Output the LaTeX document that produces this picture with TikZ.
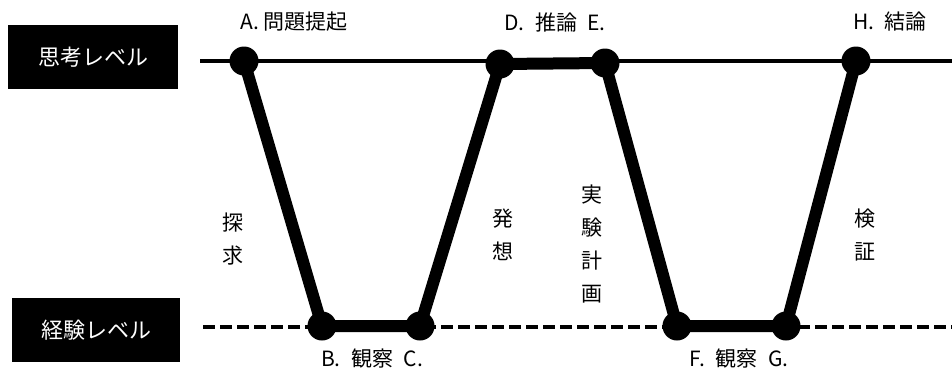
\documentclass[tikz,border=0pt]{standalone}
\usepackage{fontspec}
\setmainfont{Noto Sans CJK JP}
\usepackage{tikz}
\usetikzlibrary{positioning}

\begin{document}
\begin{tikzpicture}[x=1pt, y=-1pt,
  font=\fontsize{21}{24}\selectfont,
  lvl/.style={rectangle, fill=black, text=white, minimum width=170,
             minimum height=64, inner sep=0pt,
             font=\fontsize{22}{24}\selectfont},
  pt/.style={circle, fill=black, minimum size=29, inner sep=0pt},
  route/.style={line width=12pt},
  lab/.style={inner sep=0pt, anchor=center},
  vlab/.style={inner sep=0pt, align=center,
             font=\fontsize{21}{33}\selectfont},
]
\useasboundingbox (0,0) rectangle (952,373);

% ---- Levels ----
\node[lvl] (think) at (93,57)  {思考レベル};
\node[lvl, minimum width=168] (exp) at (96,330) {経験レベル};
\coordinate (tl) at (200,61);
\coordinate (tr) at (952,61);
\coordinate (bl) at (203,327);
\coordinate (br) at (952,327);
\draw[line width=4pt] (tl) -- (tr);
\draw[line width=4pt, dash pattern=on 12pt off 5pt] (bl) -- (br);

% ---- Stages ----
\node[pt] (A) at (244,61)  {};
\node[pt] (B) at (322,326) {};
\node[pt] (C) at (420,326) {};
\node[pt] (D) at (500,64)  {};
\node[pt] (E) at (605,63)  {};
\node[pt] (F) at (677,326) {};
\node[pt] (G) at (786,326) {};
\node[pt] (H) at (856,61)  {};

\draw[route] (A.center) -- (B.center) -- (C.center) -- (D.center)
  -- (E.center) -- (F.center) -- (G.center) -- (H.center);

% ---- Labels ----
\node[lab] (la)  at (294,22)  {A.\,問題提起};
\node[lab] (lde) at (555,22)  {D.\enspace 推論\enspace E.};
\node[lab] (lh)  at (890,22)  {H.\enspace 結論};
\node[lab] (lbc) at (372,359) {B.\enspace 観察\enspace C.};
\node[lab] (lfg) at (739,359) {F.\enspace 観察\enspace G.};

\node[vlab] (tan) at (233,239) {探\\求};
\node[vlab] (hat) at (503,235) {発\\想};
\node[vlab] (jik) at (592,244) {実\\験\\計\\画};
\node[vlab] (ken) at (865,235) {検\\証};

\end{tikzpicture}
\end{document}
